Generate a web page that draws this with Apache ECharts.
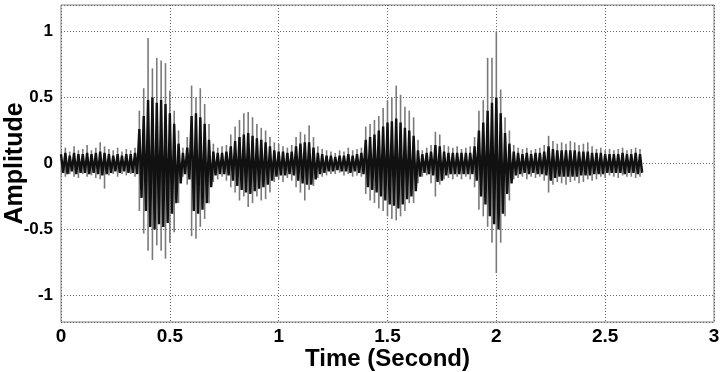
<!DOCTYPE html>
<html>
<head>
<meta charset="utf-8">
<title>Amplitude vs Time</title>
<script src="https://cdn.jsdelivr.net/npm/echarts@6/dist/echarts.min.js"></script>
<style>
  html, body { margin: 0; padding: 0; background: #fff; }
  #chart { width: 720px; height: 372px; }
</style>
</head>
<body>
<div id="chart"></div>
<script>
// envelope of the recording, one value every 0.02 s
var step = 0.02
var waveTop = [
  0.10, 0.12, 0.09, 0.13, 0.10, 0.11, 0.14, 0.10, 0.12, 0.16,
  0.13, 0.11, 0.10, 0.12, 0.09, 0.11, 0.10, 0.12, 0.40, 0.57,
  0.95, 0.72, 0.80, 0.78, 0.76, 0.55, 0.40, 0.25, 0.12, 0.20,
  0.59, 0.50, 0.57, 0.45, 0.30, 0.15, 0.12, 0.13, 0.14, 0.22,
  0.28, 0.33, 0.38, 0.39, 0.35, 0.30, 0.27, 0.25, 0.20, 0.16,
  0.15, 0.13, 0.12, 0.14, 0.20, 0.24, 0.22, 0.29, 0.20, 0.13,
  0.11, 0.10, 0.09, 0.08, 0.10, 0.09, 0.12, 0.10, 0.11, 0.12,
  0.28, 0.30, 0.33, 0.36, 0.42, 0.48, 0.50, 0.59, 0.52, 0.43,
  0.40, 0.35, 0.18, 0.10, 0.12, 0.14, 0.24, 0.22, 0.14, 0.13,
  0.12, 0.13, 0.11, 0.12, 0.13, 0.20, 0.40, 0.48, 0.80, 0.80,
  1.00, 0.56, 0.35, 0.25, 0.14, 0.12, 0.11, 0.12, 0.10, 0.11,
  0.12, 0.14, 0.21, 0.17, 0.15, 0.16, 0.15, 0.17, 0.16, 0.14,
  0.15, 0.16, 0.13, 0.11, 0.12, 0.10, 0.11, 0.10, 0.11, 0.12,
  0.10, 0.11, 0.12, 0.11
]
var waveBottom = [
  -0.09, -0.10, -0.08, -0.10, -0.11, -0.08, -0.10, -0.09, -0.11, -0.12,
  -0.19, -0.09, -0.08, -0.10, -0.08, -0.09, -0.08, -0.10, -0.36, -0.53,
  -0.66, -0.73, -0.62, -0.66, -0.72, -0.60, -0.52, -0.30, -0.10, -0.16,
  -0.55, -0.57, -0.48, -0.42, -0.30, -0.14, -0.12, -0.10, -0.13, -0.18,
  -0.22, -0.28, -0.25, -0.33, -0.30, -0.25, -0.28, -0.27, -0.22, -0.14,
  -0.12, -0.14, -0.11, -0.13, -0.18, -0.22, -0.28, -0.20, -0.17, -0.11,
  -0.10, -0.09, -0.08, -0.08, -0.07, -0.09, -0.08, -0.10, -0.09, -0.10,
  -0.23, -0.28, -0.30, -0.34, -0.36, -0.40, -0.42, -0.43, -0.40, -0.36,
  -0.30, -0.30, -0.15, -0.10, -0.09, -0.15, -0.25, -0.16, -0.12, -0.11,
  -0.12, -0.10, -0.12, -0.10, -0.12, -0.18, -0.35, -0.40, -0.48, -0.60,
  -0.83, -0.60, -0.40, -0.28, -0.12, -0.11, -0.10, -0.12, -0.10, -0.11,
  -0.10, -0.13, -0.22, -0.16, -0.14, -0.15, -0.16, -0.14, -0.13, -0.15,
  -0.14, -0.12, -0.13, -0.12, -0.10, -0.11, -0.09, -0.10, -0.11, -0.09,
  -0.10, -0.10, -0.11, -0.10
]
// dense black core of the signal
var waveCore = [
  0.07, 0.08, 0.06, 0.08, 0.07, 0.07, 0.08, 0.07, 0.08, 0.09,
  0.08, 0.07, 0.06, 0.07, 0.06, 0.07, 0.07, 0.08, 0.26, 0.36,
  0.48, 0.50, 0.46, 0.48, 0.45, 0.38, 0.30, 0.15, 0.08, 0.12,
  0.36, 0.38, 0.35, 0.30, 0.18, 0.09, 0.08, 0.08, 0.09, 0.13,
  0.17, 0.20, 0.22, 0.23, 0.21, 0.19, 0.18, 0.16, 0.13, 0.10,
  0.09, 0.09, 0.08, 0.09, 0.13, 0.15, 0.16, 0.16, 0.12, 0.08,
  0.07, 0.06, 0.06, 0.05, 0.06, 0.06, 0.07, 0.06, 0.07, 0.08,
  0.18, 0.20, 0.22, 0.25, 0.28, 0.31, 0.32, 0.34, 0.31, 0.27,
  0.25, 0.21, 0.10, 0.07, 0.08, 0.09, 0.14, 0.13, 0.09, 0.08,
  0.08, 0.08, 0.08, 0.08, 0.08, 0.13, 0.25, 0.31, 0.40, 0.46,
  0.50, 0.38, 0.23, 0.15, 0.09, 0.08, 0.07, 0.08, 0.07, 0.08,
  0.08, 0.09, 0.13, 0.11, 0.10, 0.10, 0.10, 0.10, 0.10, 0.09,
  0.09, 0.09, 0.08, 0.08, 0.08, 0.07, 0.07, 0.07, 0.07, 0.08,
  0.07, 0.07, 0.08, 0.07
]
var xTicks = [0, 3, 0.5]     // min, max, interval
var yRange = [-1.2, 1.2]

var spikes = waveTop.map(function (v, i) {
  return [i * step, v, waveBottom[i]]
})
var core = []
waveCore.forEach(function (v, i) {
  core.push([i * step, v])
  core.push([i * step + step / 2, -v])
})

var labelFont = { fontFamily: 'Liberation Sans, Arial, sans-serif', fontWeight: 'bold', color: '#000' }

var chart = echarts.init(document.getElementById('chart'))
chart.setOption({
  animation: false,
  grid: {
    left: 61,
    right: 6,
    top: 5,
    bottom: 50,
    outerBoundsMode: 'none',
    containLabel: false,
    show: true,
    borderColor: '#808080',
    borderWidth: 1
  },
  xAxis: {
    type: 'value',
    min: xTicks[0],
    max: xTicks[1],
    interval: xTicks[2],
    name: 'Time (Second)',
    nameLocation: 'middle',
    nameGap: 25,
    nameMoveOverlap: false,
    nameTextStyle: Object.assign({ fontSize: 24 }, labelFont),
    axisLine: { show: false },
    axisTick: { show: false },
    axisLabel: Object.assign({ fontSize: 19, margin: 5 }, labelFont),
    splitLine: { show: true, lineStyle: { type: [1, 2], color: '#666', width: 1 } }
  },
  yAxis: {
    type: 'value',
    min: yRange[0],
    max: yRange[1],
    splitNumber: 5,
    name: 'Amplitude',
    nameLocation: 'middle',
    nameGap: 33,
    nameRotate: 90,
    nameMoveOverlap: false,
    nameTextStyle: Object.assign({ fontSize: 25 }, labelFont),
    axisLine: { show: false },
    axisTick: { show: false },
    axisLabel: Object.assign({ fontSize: 17, margin: 8, showMinLabel: false, showMaxLabel: false }, labelFont),
    splitLine: { show: true, lineStyle: { type: [1, 2], color: '#666', width: 1 } }
  },
  series: [{
    type: 'custom',
    name: 'spikes',
    data: spikes,
    clip: true,
    renderItem: function (params, api) {
      var a = api.coord([api.value(0), api.value(1)])
      var b = api.coord([api.value(0), api.value(2)])
      return {
        type: 'line',
        shape: { x1: a[0], y1: a[1], x2: b[0], y2: b[1] },
        style: { stroke: '#7a7a7a', lineWidth: 1.6 }
      }
    }
  }, {
    type: 'line',
    name: 'core',
    data: core,
    symbol: 'none',
    lineStyle: { color: '#111', width: 2.4 }
  }]
})
</script>
</body>
</html>
